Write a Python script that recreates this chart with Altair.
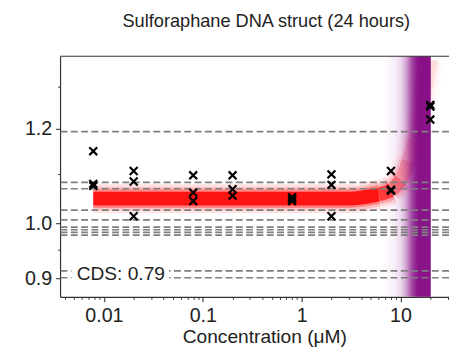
import altair as alt
import pandas as pd

FONT = "Liberation Sans"
TXT = "#222222"
AX = "#333333"

# ---- data ----
conc = [0.0078, 0.0078, 0.0078,
        0.02, 0.02, 0.02,
        0.08, 0.08, 0.08,
        0.2, 0.2, 0.2,
        0.8, 0.8, 0.8,
        2, 2, 2,
        8, 8, 8,
        20, 20, 20]
resp = [1.149, 1.079, 1.075,
        1.106, 1.084, 1.014,
        1.097, 1.061, 1.044,
        1.097, 1.068, 1.055,
        1.052, 1.048, 1.044,
        1.099, 1.077, 1.014,
        1.106, 1.067, 1.065,
        1.256, 1.252, 1.221]

fit_x = [0.0078, 0.1, 1, 3, 4, 5, 6, 7, 8, 9, 10, 11, 12, 13, 14, 15, 16, 18, 20]
fit_y = [1.049, 1.049, 1.049, 1.049, 1.051, 1.054, 1.057, 1.061, 1.066, 1.075,
         1.087, 1.105, 1.128, 1.150, 1.172, 1.200, 1.230, 1.300, 1.370]

ref_lines = [1.193, 1.082, 1.069, 1.026, 1.007, 0.993, 0.988, 0.983, 0.978, 0.913, 0.901]

band_lo = [7.0, 7.6, 8.2, 8.8, 9.4, 10.0, 10.5, 11.0, 11.5, 12.0, 12.5, 13.0, 13.6, 14.2, 14.9]
band_hi = [20.1] * 15
band_op = [0.02, 0.02, 0.021, 0.032, 0.044, 0.058, 0.085, 0.107, 0.149, 0.21,
           0.222, 0.257, 0.308, 0.333, 0.333]

cds_label = "CDS: 0.79"
cds_x, cds_y = 0.0053, 0.9077
cds_box_x = [0.0047, 0.0455]
cds_box_y = [0.889, 0.925]

x_major = [0.01, 0.1, 1, 10]
x_minor = [0.004, 0.005, 0.006, 0.007, 0.008, 0.009,
           0.02, 0.03, 0.04, 0.05, 0.06, 0.07, 0.08, 0.09,
           0.2, 0.3, 0.4, 0.5, 0.6, 0.7, 0.8, 0.9,
           2, 3, 4, 5, 6, 7, 8, 9, 20, 30]
y_major = [0.9, 1.0, 1.2]
y_minor = [0.95, 1.1, 1.3]

XMIN, XMAX = 0.0036, 30.9
YMIN, YMAX = 0.8685, 1.379
W, H = 396, 245

# ---- tables ----
pts = pd.DataFrame({"conc": conc, "resp": resp})

seg_edges = [(0.0, 6.0, 1.0), (6.0, 8.0, 0.75), (8.0, 10.0, 0.45),
             (10.0, 12.0, 0.28), (12.0, 14.0, 0.18), (14.0, 100.0, 0.1)]
rows = []
for i, (lo, hi, op) in enumerate(seg_edges):
    for xv, yv in zip(fit_x, fit_y):
        if lo <= xv <= hi:
            rows.append({"x": xv, "y": yv, "seg": i, "segop": op})
fit = pd.DataFrame(rows)

bands = pd.DataFrame({"lo": band_lo, "hi": band_hi, "op": band_op})
lines = pd.DataFrame({"y": ref_lines})
box = pd.DataFrame({"x0": [cds_box_x[0]], "x1": [cds_box_x[1]],
                    "y0": [cds_box_y[0]], "y1": [cds_box_y[1]]})
lab = pd.DataFrame({"x": [cds_x], "y": [cds_y], "t": [cds_label]})

xs = alt.Scale(type="log", domain=[XMIN, XMAX], nice=False)
ys = alt.Scale(type="log", domain=[YMIN, YMAX], nice=False, zero=False)


def X(f, **kw):
    return alt.X(f, type="quantitative", scale=xs, axis=None, **kw)


def Y(f, **kw):
    return alt.Y(f, type="quantitative", scale=ys, axis=None, **kw)


layers = []

# red fitted band (blurred look via stacked strokes)
for w, lo in [(30, 0.1), (24, 0.16), (19, 0.3), (14, 0.85)]:
    layers.append(
        alt.Chart(fit).transform_calculate(o=f"datum.segop*{lo}")
        .mark_line(color="#ff0000", strokeWidth=w, strokeCap="butt",
                   interpolate="monotone", clip=True)
        .encode(x=X("x"), y=Y("y"), detail="seg:N",
                opacity=alt.Opacity("o:Q", scale=None, legend=None))
    )

# purple vertical band
layers.append(
    alt.Chart(bands).mark_rect(color="#800080", clip=True)
    .encode(x=X("lo"), x2="hi", y=alt.value(0), y2=alt.value(H),
            opacity=alt.Opacity("op:Q", scale=None, legend=None))
)

# dashed reference lines
layers.append(
    alt.Chart(lines).mark_rule(color="#7f7f7f", strokeWidth=1.7, strokeDash=[7, 3.5])
    .encode(y=Y("y"))
)

# top spine
layers.append(
    alt.Chart(pd.DataFrame({"a": [0]})).mark_rule(color=AX, strokeWidth=1.2)
    .encode(x=alt.value(0), x2=alt.value(W), y=alt.value(0))
)

# CDS label with white box
layers.append(
    alt.Chart(box).mark_rect(color="white")
    .encode(x=X("x0"), x2="x1", y=Y("y0"), y2="y1")
)
layers.append(
    alt.Chart(lab).mark_text(align="left", baseline="middle", font=FONT,
                             fontSize=19.5, color=TXT)
    .encode(x=X("x"), y=Y("y"), text="t:N")
)

# data points with main axes
xpath = "M-1,-1L1,1M-1,1L1,-1"
layers.append(
    alt.Chart(pts).mark_point(shape=xpath, filled=False, color="black",
                              strokeWidth=2.2, size=64, opacity=1)
    .encode(
        x=alt.X("conc:Q", scale=xs, axis=alt.Axis(
            orient="bottom", values=x_major,
            labelExpr="format(datum.value, '~g')",
            title="Concentration (μM)", grid=False,
            tickSize=5, tickColor=AX, tickWidth=1.1,
            domainColor=AX, domainWidth=1.2,
            labelFont=FONT, labelFontSize=20, labelColor=TXT,
            labelBaseline="alphabetic", labelPadding=20,
            labelFlush=False, labelOverlap=False,
            titleFont=FONT, titleFontSize=19.5, titleColor=TXT,
            titleFontWeight="normal", titleX=208, titleY=46.5,
            titleBaseline="alphabetic", titleAlign="center")),
        y=alt.Y("resp:Q", scale=ys, axis=alt.Axis(
            orient="left", values=y_major,
            labelExpr="format(datum.value, '.1f')",
            title=None, grid=False,
            tickSize=4.5, tickColor=AX, tickWidth=1.1,
            domainColor=AX, domainWidth=1.2,
            labelFont=FONT, labelFontSize=20, labelColor=TXT,
            labelPadding=4, labelFlush=False, labelOverlap=False)),
    )
)

# invisible layer carrying the minor ticks
layers.append(
    alt.Chart(pts).mark_point(opacity=0)
    .encode(
        x=alt.X("conc:Q", scale=xs, axis=alt.Axis(
            orient="bottom", values=x_minor, labels=False, domain=False,
            grid=False, title=None, tickSize=2.5, tickColor=AX, tickWidth=1)),
        y=alt.Y("resp:Q", scale=ys, axis=alt.Axis(
            orient="left", values=y_minor, labels=False, domain=False,
            grid=False, title=None, tickSize=2.5, tickColor=AX, tickWidth=1)),
    )
)

chart = (
    alt.layer(*layers)
    .resolve_axis(x="independent", y="independent")
    .properties(
        width=W, height=H,
        title=alt.TitleParams(
            "Sulforaphane DNA struct (24 hours)", font=FONT, fontSize=18.5,
            fontWeight="normal", color=TXT, anchor="middle", frame="group",
            dx=12, offset=11, baseline="alphabetic"),
        autosize=alt.AutoSizeParams(type="none"),
        padding={"left": 53, "top": 46, "right": 0, "bottom": 50},
    )
    .configure_view(stroke=None)
)

chart.save("out.html", embed_options={"renderer": "svg", "actions": False})
